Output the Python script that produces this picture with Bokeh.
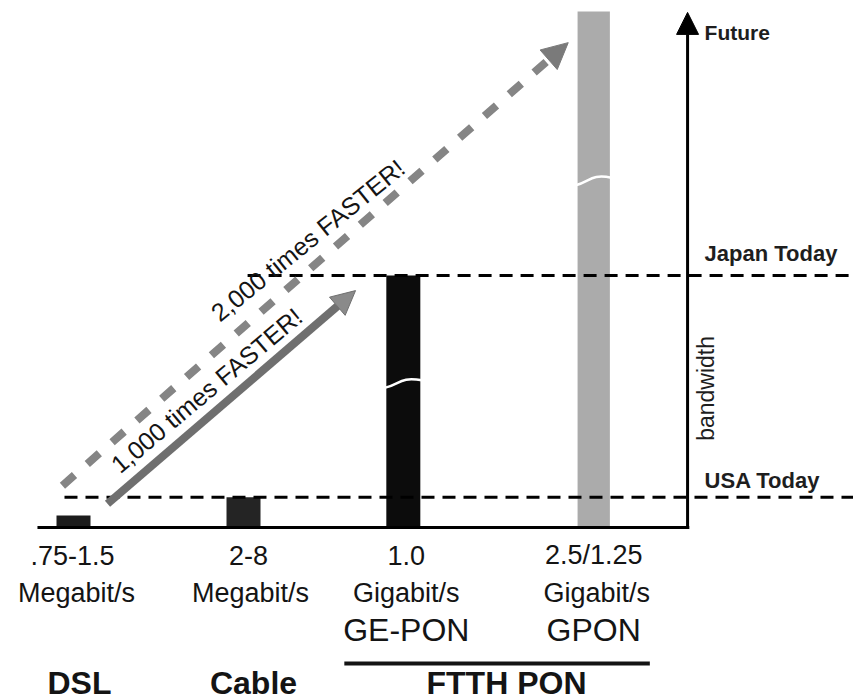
import math
from bokeh.plotting import figure
from bokeh.models import Range1d, Arrow, NormalHead, ColumnDataSource
from bokeh.core.properties import value
from bokeh.embed import file_html
from bokeh.resources import INLINE

# ---------------- data ----------------
categories = ["DSL", "Cable", "GE-PON", "GPON"]
speed_labels = [".75-1.5", "2-8", "1.0", "2.5/1.25"]
unit_labels = ["Megabit/s", "Megabit/s", "Gigabit/s", "Gigabit/s"]
type_labels = ["", "", "GE-PON", "GPON"]
bar_heights = [2.4, 6.0, 50.0, 102.4]        # relative bandwidth
group_labels = ["DSL", "Cable", "FTTH PON"]
usa_today = 6.0
japan_today = 50.0
future_level = 102.2
faster_labels = ["1,000 times FASTER!", "2,000 times FASTER!"]
level_labels = ["Future", "Japan Today", "USA Today"]
axis_title = "bandwidth"

# ---------------- layout ----------------
slot_x = [0.0, 1.0, 1.94, 3.06]
bar_w = [0.20, 0.20, 0.20, 0.19]
bar_colors = ["#1c1c1c", "#242424", "#0c0c0c", "#ababab"]
axis_x = 3.612
FONT = value("Liberation Sans")
INK = "#141414"

p = figure(width=853, height=700, output_backend="svg", toolbar_location=None,
           x_range=Range1d(-0.4294, 4.588), y_range=Range1d(-34.33, 104.56),
           min_border=0, background_fill_color="white", border_fill_color="white")
p.axis.visible = False
p.grid.visible = False
p.outline_line_color = None

# bars
src = ColumnDataSource(dict(x=slot_x, top=bar_heights, w=bar_w, color=bar_colors))
p.vbar(x="x", top="top", bottom=0, width="w", fill_color="color", line_color=None, source=src)

# white break marks on the tall bars
for i, lvl in ((2, 28.6), (3, 68.8)):
    left = slot_x[i] - bar_w[i] / 2 - 0.01
    right = slot_x[i] + bar_w[i] / 2 + 0.01
    p.bezier(x0=[left], y0=[lvl - 0.9], x1=[right], y1=[lvl + 0.6],
             cx0=[slot_x[i] - 0.02], cy0=[lvl - 0.2], cx1=[slot_x[i] - 0.02], cy1=[lvl + 1.4],
             line_color="white", line_width=2.5)

# reference levels (dashed)
p.segment(x0=[-0.053, 1.024], y0=[usa_today, japan_today], x1=[5, 5], y1=[usa_today, japan_today],
          line_color="black", line_width=3, line_dash="13 8")

# x baseline
p.segment(x0=[-0.212], y0=[0], x1=[axis_x + 0.01], y1=[0], line_color="black", line_width=3)
# y axis with arrow
p.add_layout(Arrow(end=NormalHead(size=22, fill_color="black", line_color="black"),
                   x_start=axis_x, y_start=-0.3, x_end=axis_x, y_end=future_level,
                   line_color="black", line_width=3))

# solid "1,000 times" arrow
sx0, sy0 = 0.2, usa_today - 1.3
sx1, sy1 = 1.659, japan_today - 3.0
p.add_layout(Arrow(end=NormalHead(size=24, fill_color="#8a8a8a", line_color="#6f6f6f", line_width=1),
                   x_start=sx0, y_start=sy0, x_end=sx1, y_end=sy1,
                   line_color="#6f6f6f", line_width=8))
t0, t1 = 0.01, 0.88
p.segment(x0=[sx0 + t0 * (sx1 - sx0)], y0=[sy0 + t0 * (sy1 - sy0)],
          x1=[sx0 + t1 * (sx1 - sx0)], y1=[sy0 + t1 * (sy1 - sy0)],
          line_color="#a9a9a9", line_width=3.5)

# dashed "2,000 times" arrow
p.add_layout(Arrow(end=NormalHead(size=26, fill_color="#7a7a7a", line_color="#7a7a7a"),
                   x_start=-0.065, y_start=usa_today + 2.3, x_end=2.91, y_end=future_level - 6.0,
                   line_color="#858585", line_width=8, line_dash="16 17"))

# slanted labels (drawn over the arrows)
p.text(x=[0.782, 1.378], y=[27.2, 57.0], text=faster_labels,
       angle=[math.radians(40), math.radians(39)],
       text_font=FONT, text_font_size="25px", text_color=INK,
       text_align="center", text_baseline="middle", level="overlay")

# category labels
lab = ColumnDataSource(dict(x=slot_x, speed=speed_labels, unit=unit_labels, typ=type_labels,
                            dx=[-1, 5, 3, 0], dx2=[3, 7, 3, 3]))
p.text(x="x", y=0, text="speed", x_offset="dx", y_offset=28, source=lab,
       text_font=FONT, text_font_size="27px", text_color=INK,
       text_align="center", text_baseline="middle")
p.text(x="x", y=0, text="unit", x_offset="dx2", y_offset=66, source=lab,
       text_font=FONT, text_font_size="27px", text_color=INK,
       text_align="center", text_baseline="middle")
p.text(x="x", y=0, text="typ", x_offset="dx", y_offset=103, source=lab,
       text_font=FONT, text_font_size="32px", text_color=INK,
       text_align="center", text_baseline="middle")

# group labels
group_x = [slot_x[0], slot_x[1], (slot_x[2] + slot_x[3]) / 2]
p.text(x=group_x, y=[0, 0, 0], text=group_labels, x_offset=[6, 10, 8], y_offset=156,
       text_font=FONT, text_font_size="32px", text_font_style="bold", text_color=INK,
       text_align="center", text_baseline="middle")
p.segment(x0=[slot_x[2] - 0.347], y0=[-27.0], x1=[slot_x[3] + 0.33], y1=[-27.0],
          line_color=INK, line_width=4)

# right-hand level labels
p.text(x=[axis_x + 0.1] * 3, y=[future_level, japan_today, usa_today], text=level_labels,
       y_offset=[20, -22, -17],
       text_font=FONT, text_font_size=["21px", "22px", "22px"], text_font_style="bold",
       text_color="#1e1e1e", text_align="left", text_baseline="middle")
p.text(x=[axis_x + 0.108], y=[27.6], text=[axis_title], angle=math.pi / 2,
       text_font=FONT, text_font_size="23px", text_color="#1e1e1e",
       text_align="center", text_baseline="middle")

open("out.html", "w").write(file_html(p, INLINE))
